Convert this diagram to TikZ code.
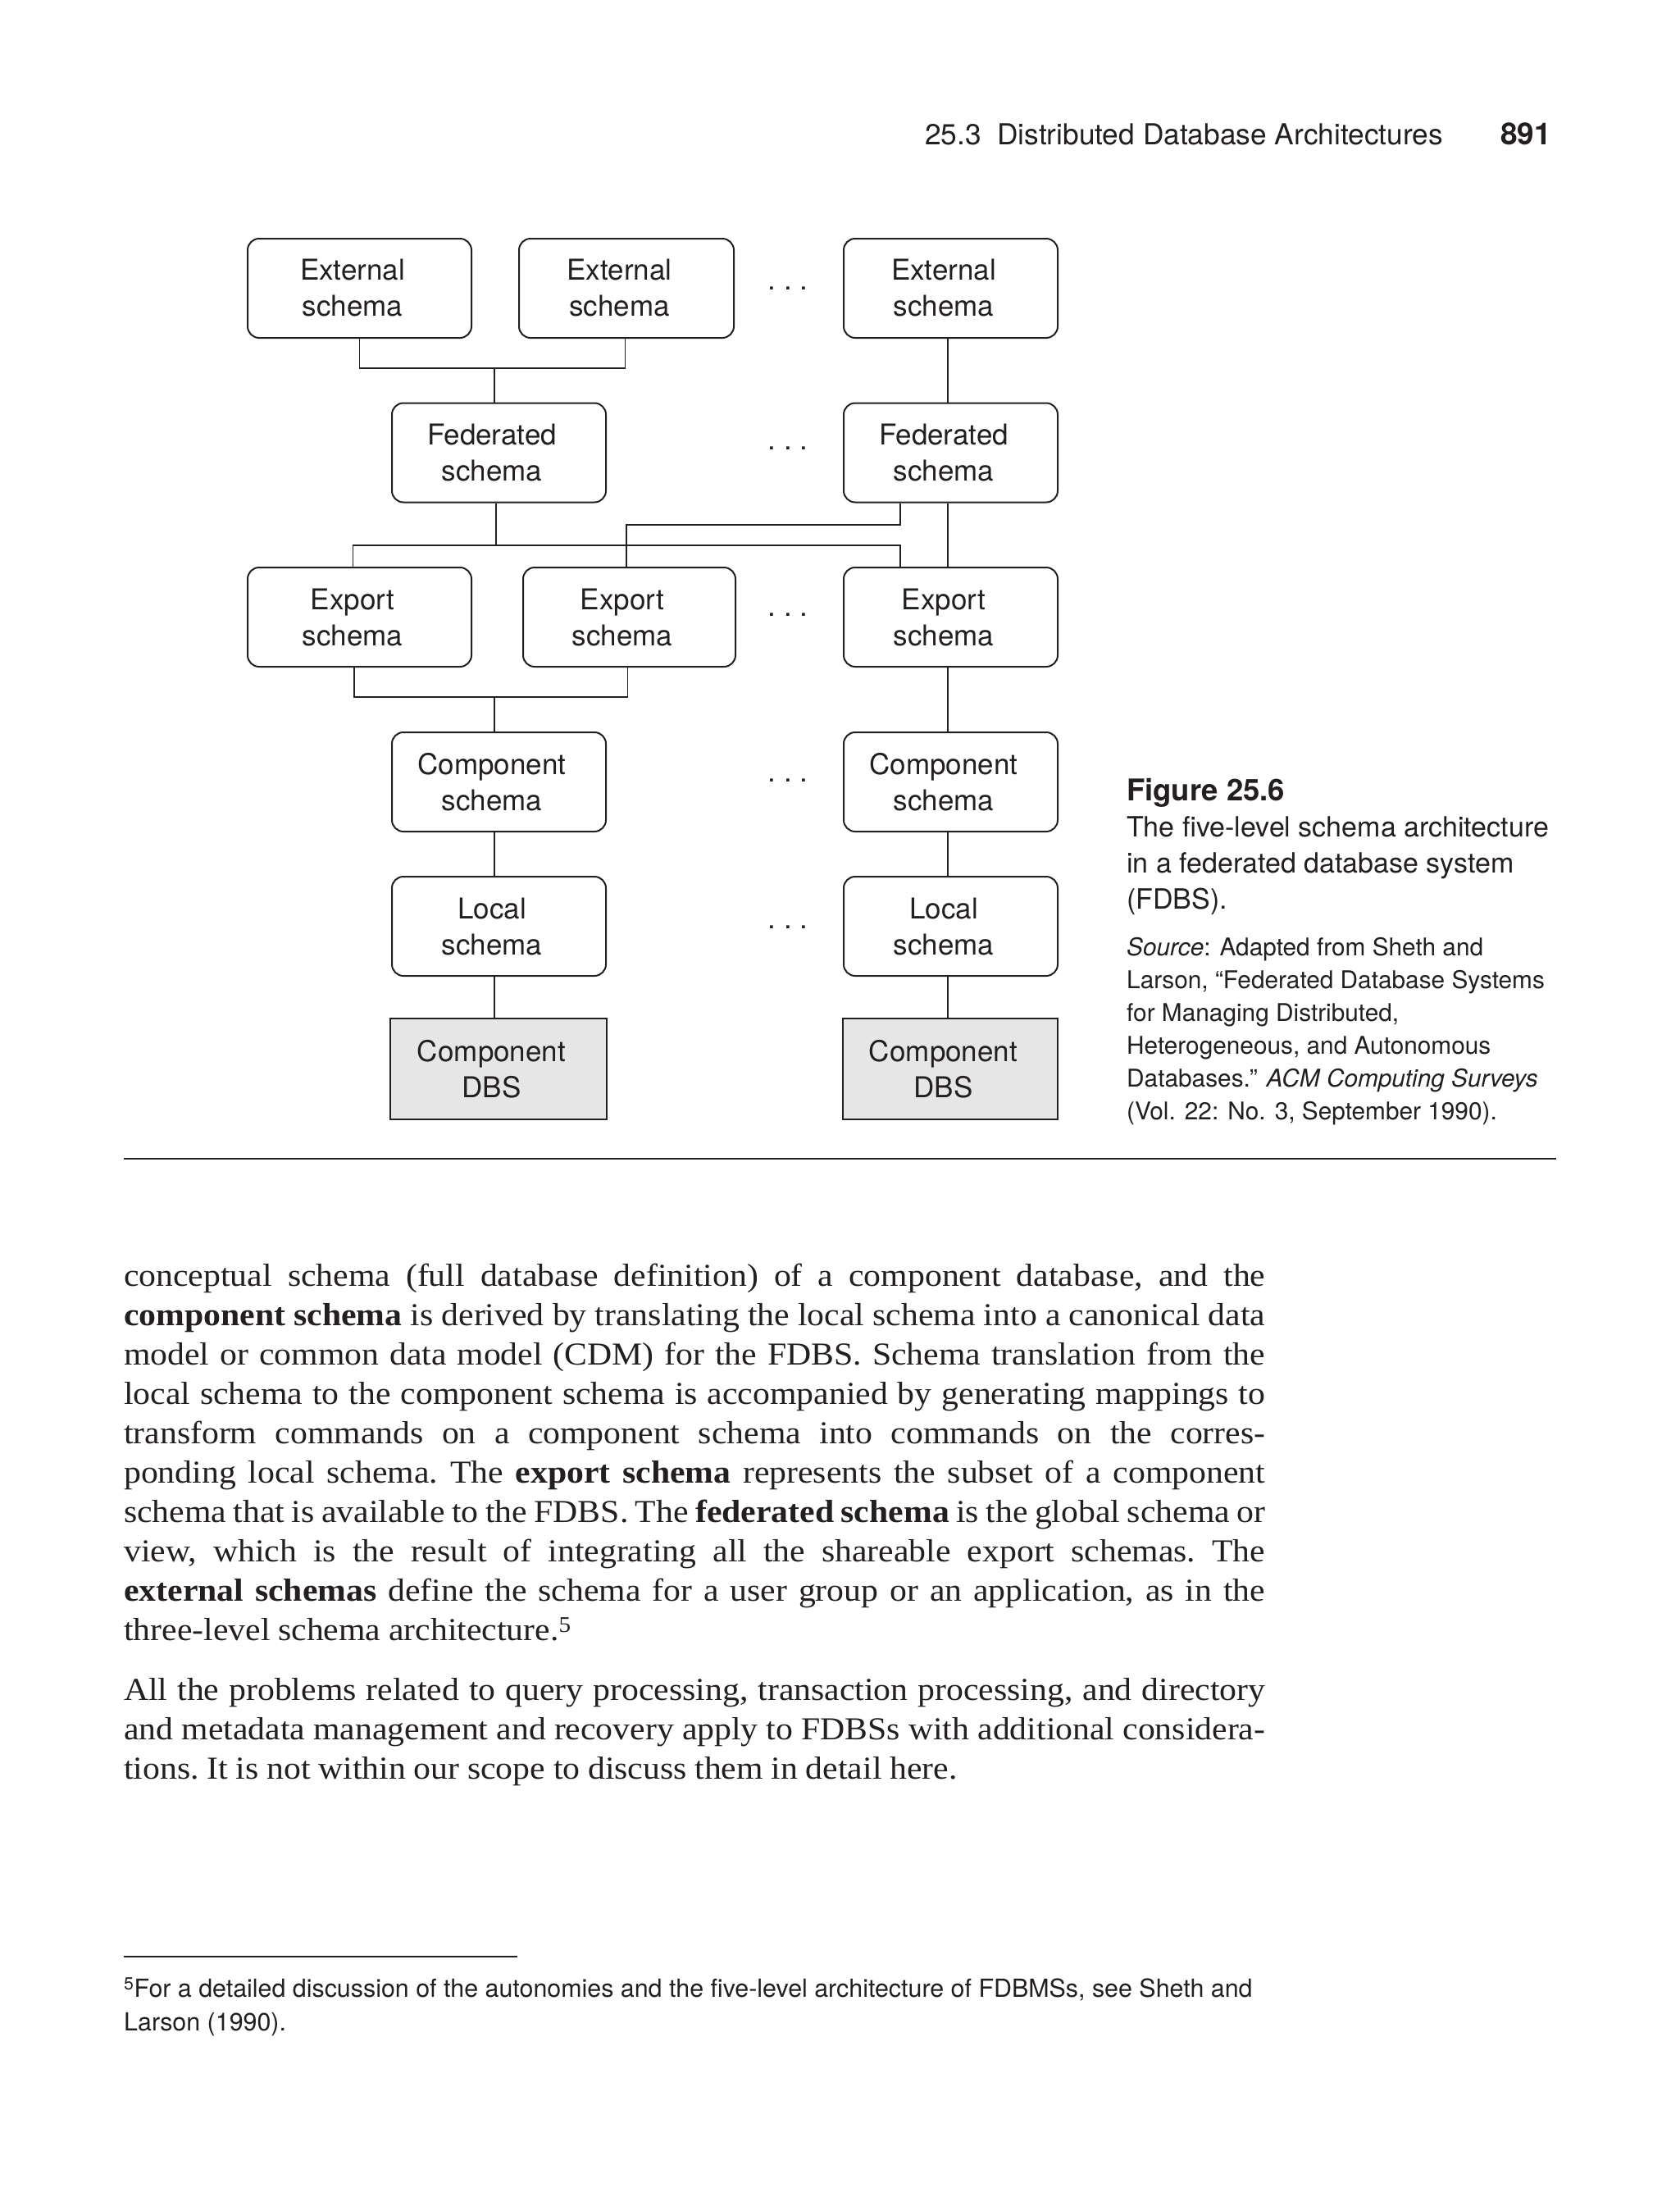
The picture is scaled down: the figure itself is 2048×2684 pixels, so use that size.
\documentclass[tikz,border=0pt]{standalone}
\usepackage{fontspec}
\setmainfont{Liberation Serif}
\newfontfamily\bodyserif[FakeStretch=1.07]{Liberation Serif}
\newfontfamily\heros{TeX Gyre Heros}
\definecolor{ink}{HTML}{231F20}
\definecolor{dbsgray}{HTML}{E6E6E6}
\newcommand\mybodyfont{\bodyserif\fontsize{39}{48}\selectfont\frenchspacing\spaceskip=0.25em plus 0.6em minus 0.17em\relax}
\newcommand\twoline[2]{#1\kern17pt\\#2\kern17pt}
\begin{document}
\begin{tikzpicture}[x=1pt,y=-1pt,
  boxfont/.style={font=\heros\fontsize{35}{44}\selectfont},
  schemabox/.style={boxfont, draw=ink, line width=2pt, rounded corners=14pt, align=center, inner sep=0pt, text=ink, minimum height=121pt},
  dbsbox/.style={boxfont, draw=ink, line width=2pt, fill=dbsgray, align=center, inner sep=0pt, text=ink, minimum height=123pt},
  link/.style={draw=ink, line width=1.4pt},
  dotsnode/.style={font=\heros\fontsize{35}{44}\selectfont, anchor=base, inner sep=0pt, text=ink},
  capline/.style={anchor=base west, inner sep=0pt, text=ink, font=\heros\fontsize{34}{44}\selectfont},
  srcline/.style={anchor=base west, inner sep=0pt, text=ink, font=\heros\fontsize{29.8}{40}\selectfont},
  bodyline/.style={anchor=base west, inner sep=0pt, text=ink, font=\mybodyfont},
  footline/.style={anchor=base west, inner sep=0pt, text=ink, font=\heros\fontsize{30.4}{41}\selectfont},
  rulestyle/.style={draw=ink, line width=2.2pt}
]
\fill[white] (0,0) rectangle (2048,2684);
\useasboundingbox (0,0) rectangle (2048,2684);

% header
\node[anchor=base east, inner sep=0pt, text=ink, font=\heros\fontsize{35.3}{42}\selectfont] (hdr) at (1760,177) {25.3\hspace{0.55em}Distributed Database Architectures};
\node[anchor=base east, inner sep=0pt, text=ink, font=\heros\bfseries\fontsize{37}{42}\selectfont] (pg) at (1892,177) {891};

% row 1: external
\node[schemabox, minimum width=273pt] (A1) at (438.5,351.5) {\twoline{External}{schema}};
\node[schemabox, minimum width=262pt] (A2) at (764,351.5) {\twoline{External}{schema}};
\node[schemabox, minimum width=261pt] (A3) at (1159.5,351.5) {\twoline{External}{schema}};
% row 2: federated
\node[schemabox, minimum width=261pt] (B1) at (608.5,552) {\twoline{Federated}{schema}};
\node[schemabox, minimum width=261pt] (B3) at (1159.5,552) {\twoline{Federated}{schema}};
% row 3: export
\node[schemabox, minimum width=273pt] (C1) at (438.5,752.5) {\twoline{Export}{schema}};
\node[schemabox, minimum width=259pt] (C2) at (767.5,752.5) {\twoline{Export}{schema}};
\node[schemabox, minimum width=261pt] (C3) at (1159.5,752.5) {\twoline{Export}{schema}};
% row 4: component
\node[schemabox, minimum width=261pt] (D1) at (608.5,953.5) {\twoline{Component}{schema}};
\node[schemabox, minimum width=261pt] (D3) at (1159.5,953.5) {\twoline{Component}{schema}};
% row 5: local
\node[schemabox, minimum width=261pt] (E1) at (608.5,1129.5) {\twoline{Local}{schema}};
\node[schemabox, minimum width=261pt] (E3) at (1159.5,1129.5) {\twoline{Local}{schema}};
% row 6: DBS
\node[dbsbox, minimum width=264pt] (F1) at (608,1303.5) {\twoline{Component}{DBS}};
\node[dbsbox, minimum width=262pt] (F3) at (1159,1303.5) {\twoline{Component}{DBS}};

% ellipses
\node[dotsnode] (dot1) at (961,353.7) {.\hspace{9.5pt}.\hspace{9.5pt}.};
\node[dotsnode] (dot2) at (961,548.7) {.\hspace{9.5pt}.\hspace{9.5pt}.};
\node[dotsnode] (dot3) at (961,751) {.\hspace{9.5pt}.\hspace{9.5pt}.};
\node[dotsnode] (dot4) at (961,953.7) {.\hspace{9.5pt}.\hspace{9.5pt}.};
\node[dotsnode] (dot5) at (961,1132) {.\hspace{9.5pt}.\hspace{9.5pt}.};

% connectors
\coordinate (j1) at (603,449);
\draw[link] (A1.south) |- (j1) -| ([xshift=-1.5pt]A2.south);
\draw[link] (j1) -- (j1 |- B1.north);
\draw[link] ([xshift=-3.5pt]A3.south) -- ([xshift=-3.5pt]B3.north);

\coordinate (j2) at (605,665);
\draw[link] ([xshift=-3.5pt]B1.south) -- (j2);
\draw[link] ([xshift=-8pt]C1.north) |- (j2) -| ([xshift=-61.5pt]C3.north);
\draw[link] ([xshift=-61.5pt]B3.south) -- ++(0,26.5) -| ([xshift=-3.5pt]C2.north);
\draw[link] ([xshift=-3.5pt]B3.south) -- ([xshift=-3.5pt]C3.north);

\coordinate (j3) at (603,850);
\draw[link] ([xshift=-6.5pt]C1.south) |- (j3) -| ([xshift=-1.8pt]C2.south);
\draw[link] (j3) -- (j3 |- D1.north);
\draw[link] ([xshift=-3.5pt]C3.south) -- ([xshift=-3.5pt]D3.north);
\draw[link] ([xshift=-5.5pt]D1.south) -- ([xshift=-5.5pt]E1.north);
\draw[link] ([xshift=-3.5pt]D3.south) -- ([xshift=-3.5pt]E3.north);
\draw[link] ([xshift=-5.5pt]E1.south) -- ([xshift=-5pt]F1.north);
\draw[link] ([xshift=-3.5pt]E3.south) -- ([xshift=-3pt]F3.north);

% caption
\node[capline, font=\heros\bfseries\fontsize{36.5}{44}\selectfont] (cap0) at (1374,976.7) {Figure 25.6};
\node[capline] (cap1) at (1374,1020) {The five-level schema architecture};
\node[capline] (cap2) at (1374,1064) {in a federated database system};
\node[capline] (cap3) at (1374,1108) {(FDBS).};
\node[srcline] (src1) at (1374,1165) {\textit{Source}: Adapted from Sheth and};
\node[srcline] (src2) at (1374,1205) {Larson, “Federated Database Systems};
\node[srcline] (src3) at (1374,1245) {for Managing Distributed,};
\node[srcline] (src4) at (1374,1285) {Heterogeneous, and Autonomous};
\node[srcline] (src5) at (1374,1325) {Databases.” \textit{ACM Computing Surveys}};
\node[srcline] (src6) at (1374,1365) {(Vol. 22: No. 3, September 1990).};

% rule under figure
\draw[rulestyle] (151,1413) -- (1898,1413);

% body text
\node[bodyline] (b1) at (151,1568) {\makebox[1392pt][s]{conceptual schema (full database definition) of a component database, and the}};
\node[bodyline] (b2) at (151,1616) {\makebox[1392pt][s]{\textbf{component schema} is derived by translating the local schema into a canonical data}};
\node[bodyline] (b3) at (151,1664) {\makebox[1392pt][s]{model or common data model (CDM) for the FDBS. Schema translation from the}};
\node[bodyline] (b4) at (151,1712) {\makebox[1392pt][s]{local schema to the component schema is accompanied by generating mappings to}};
\node[bodyline] (b5) at (151,1760) {\makebox[1392pt][s]{transform commands on a component schema into commands on the corres-}};
\node[bodyline] (b6) at (151,1808) {\makebox[1392pt][s]{ponding local schema. The \textbf{export schema} represents the subset of a component}};
\node[bodyline] (b7) at (151,1856) {\makebox[1392pt][s]{schema that is available to the FDBS. The \textbf{federated schema} is the global schema or}};
\node[bodyline] (b8) at (151,1904) {\makebox[1392pt][s]{view, which is the result of integrating all the shareable export schemas. The}};
\node[bodyline] (b9) at (151,1952) {\makebox[1392pt][s]{\textbf{external schemas} define the schema for a user group or an application, as in the}};
\node[bodyline] (b10) at (151,2000) {three-level schema architecture.\textsuperscript{5}};
\node[bodyline] (b11) at (151,2073) {\makebox[1392pt][s]{All the problems related to query processing, transaction processing, and directory}};
\node[bodyline] (b12) at (151,2121) {\makebox[1392pt][s]{and metadata management and recovery apply to FDBSs with additional considera-}};
\node[bodyline] (b13) at (151,2169) {tions. It is not within our scope to discuss them in detail here.};

% footnote
\draw[rulestyle] (151,2386) -- (631,2386);
\node[footline] (f1) at (151,2435) {\textsuperscript{5}For a detailed discussion of the autonomies and the five-level architecture of FDBMSs, see Sheth and};
\node[footline] (f2) at (151,2476) {Larson (1990).};
\end{tikzpicture}
\end{document}
